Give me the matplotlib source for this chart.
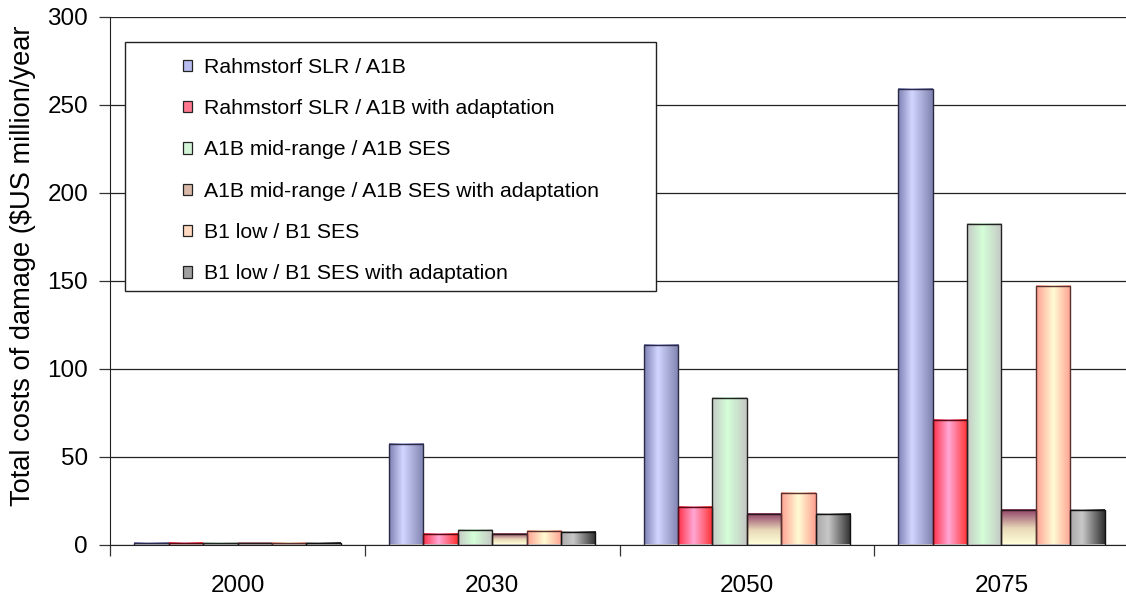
import numpy as np
import matplotlib
matplotlib.use('Agg')
import matplotlib.pyplot as plt
from matplotlib.colors import LinearSegmentedColormap
from matplotlib.patches import Rectangle, Patch

## data
years = ['2000', '2030', '2050', '2075']
rahm = [0.8, 57, 113.5, 259]
rahm_adapt = [0.8, 6, 21.5, 71]
a1b_mid = [0.8, 8.5, 83, 182]
a1b_mid_adapt = [0.8, 6, 17.3, 19.5]
b1_low = [0.8, 7.6, 29.5, 147]
b1_low_adapt = [0.8, 7, 17.2, 19.5]

series_names = ['Rahmstorf SLR / A1B',
                'Rahmstorf SLR / A1B with adaptation',
                'A1B mid-range / A1B SES',
                'A1B mid-range / A1B SES with adaptation',
                'B1 low / B1 SES',
                'B1 low / B1 SES with adaptation']
series_values = [rahm, rahm_adapt, a1b_mid, a1b_mid_adapt, b1_low, b1_low_adapt]

## gradient styles (excel-like fills): (stops, direction, edge colour, legend colour)
styles = [
    ([(0, '#7C80B2'), (0.4, '#D3D6FF'), (1, '#7E82AE')], 'h', '#2A2A44', '#B8BCEE'),
    ([(0, '#FF3046'), (0.45, '#FFA8D6'), (1, '#FF3030')], 'h', '#5A0A10', '#FF7890'),
    ([(0, '#C6CAC6'), (0.45, '#D4FFD8'), (1, '#C4C6C4')], 'h', '#222222', '#D4F4D8'),
    ([(0, '#8E3E66'), (0.55, '#E8D8B8'), (1, '#FFFFD8')], 'v', '#2A1A1A', '#D8B8A8'),
    ([(0, '#FFA090'), (0.5, '#FFFCD4'), (1, '#FFA090')], 'h', '#5A3030', '#FFD8C0'),
    ([(0, '#A8A8A8'), (0.35, '#C8C8C8'), (1, '#2E2E2E')], 'h', '#111111', '#A0A0A0'),
]

plt.rcParams['font.family'] = ['Liberation Sans', 'DejaVu Sans']

fig = plt.figure(figsize=(11.26, 5.98), dpi=100)
ax = fig.add_axes([110.3 / 1126, 53.5 / 598, 1018.4 / 1126, 527.8 / 598])

x = np.arange(len(years))
width = 0.135

grad = np.linspace(0, 1, 256)
for i, (vals, style) in enumerate(zip(series_values, styles)):
    stops, direction, edge, _ = style
    cmap = LinearSegmentedColormap.from_list('s%d' % i, stops)
    if direction == 'h':
        img = grad[np.newaxis, :]
    else:
        img = grad[:, np.newaxis]
    offset = (i - 2.5) * width
    bars = ax.bar(x + offset, vals, width, facecolor='none', edgecolor=edge, linewidth=1.0, zorder=3)
    for b in bars:
        x0, y0 = b.get_x(), b.get_y()
        ax.imshow(img, cmap=cmap, aspect='auto', origin='upper', interpolation='bilinear',
                  extent=(x0, x0 + b.get_width(), y0, y0 + b.get_height()), zorder=2)

## axes styling
ax.set_xlim(-0.5, 3.5)
ax.set_ylim(0, 300)
ax.set_yticks(np.arange(0, 301, 50))
ax.yaxis.grid(True, color='#222222', linewidth=0.9)
ax.set_axisbelow(True)
ax.set_xticks(x)
ax.set_xticklabels(years, fontsize=17.5)
ax.set_xticks(np.arange(-0.5, 3.6, 1), minor=True)
ax.tick_params(axis='x', which='major', length=0, pad=22)
ax.tick_params(axis='x', which='minor', length=8, width=0.9, direction='out', color='#333333')
ax.tick_params(axis='y', labelsize=17.5, length=8, width=0.9, direction='out', pad=8, color='#333333')
for s in ['top', 'right']:
    ax.spines[s].set_visible(False)
ax.spines['left'].set_color('#222222')
ax.spines['bottom'].set_color('#222222')

fig.text(23.5 / 1126, 1 - 266 / 598, 'Total costs of damage ($US million/year',
         rotation=90, ha='center', va='center', fontsize=19.6)

## legend with its own box
ax.add_patch(Rectangle((0.0144, 0.4805), 0.5216, 0.4711, transform=ax.transAxes,
                       facecolor='white', edgecolor='#222222', linewidth=1.0, zorder=5))
handles = [Patch(facecolor=st[3], edgecolor='#222222', linewidth=0.9) for st in styles]
leg = ax.legend(handles, series_names, loc='upper left', bbox_to_anchor=(0.071, 0.922),
                frameon=False, fontsize=15.3, handlelength=0.45, handleheight=0.45,
                handletextpad=0.55, labelspacing=1.05, borderpad=0, borderaxespad=0)
leg.set_zorder(6)

fig.savefig('out.png', dpi=100)
